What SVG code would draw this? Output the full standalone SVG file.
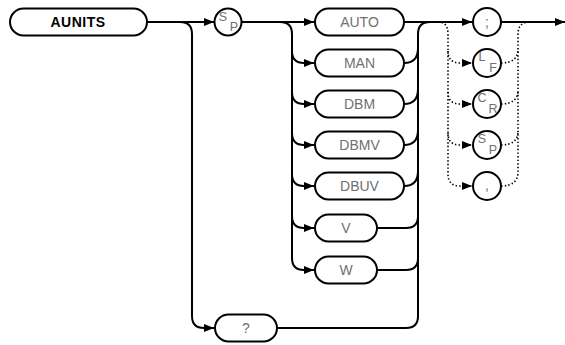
<svg xmlns="http://www.w3.org/2000/svg" width="565" height="345" viewBox="0 0 565 345">
<style>
.b{fill:#fff;stroke:#000;stroke-width:2}
.c{fill:none;stroke:#000;stroke-width:2}
.d{fill:none;stroke:#000;stroke-width:1.6;stroke-dasharray:1.4 2.2}
.t{font-family:"Liberation Sans",Arial,sans-serif;font-size:14px;fill:#707070;text-anchor:middle}
.s{font-family:"Liberation Sans",Arial,sans-serif;font-size:12.5px;fill:#707070;text-anchor:middle}
.k{font-family:"Liberation Sans",Arial,sans-serif;font-size:14px;font-weight:bold;fill:#000;text-anchor:middle;letter-spacing:0.5px}
</style>
<defs>
<marker id="a" markerUnits="userSpaceOnUse" viewBox="0 0 10 8" refX="10" refY="4" markerWidth="10" markerHeight="8" orient="auto"><path d="M0,0 L10,4 L0,8 z" fill="#000"/></marker>
</defs>
<g id="connectors">
<path class="c" d="M147,22 L214,22" marker-end="url(#a)"/>
<path class="c" d="M180,22 Q192,22 192,34 L192,316 Q192,328 204,328 L214,328" marker-end="url(#a)"/>
<path class="c" d="M242,22 L314,22" marker-end="url(#a)"/>
<path class="c" d="M280,22 Q292,22 292,34 L292,258 Q292,270 304,270 L314,270" marker-end="url(#a)"/>
<path class="c" d="M292,51 Q292,63 304,63 L314,63" marker-end="url(#a)"/>
<path class="c" d="M292,92 Q292,104 304,104 L314,104" marker-end="url(#a)"/>
<path class="c" d="M292,133 Q292,145 304,145 L314,145" marker-end="url(#a)"/>
<path class="c" d="M292,174 Q292,186 304,186 L314,186" marker-end="url(#a)"/>
<path class="c" d="M292,216 Q292,228 304,228 L314,228" marker-end="url(#a)"/>
<path class="c" d="M277,328 L406,328 Q418,328 418,316 L418,34 Q418,22 430,22"/>
<path class="c" d="M404,63 Q418,63 418,48"/>
<path class="c" d="M404,104 Q418,104 418,89"/>
<path class="c" d="M404,145 Q418,145 418,130"/>
<path class="c" d="M404,186 Q418,186 418,171"/>
<path class="c" d="M377,228 L406,228 Q418,228 418,216"/>
<path class="c" d="M377,270 L406,270 Q418,270 418,258"/>
<path class="c" d="M404,22 L472,22" marker-end="url(#a)"/>
<path class="c" d="M501,22 L565,22" marker-end="url(#a)"/>
<path class="d" d="M438,22 Q448,22 448,34 L448,174 Q448,186 460,186 L472,186" marker-end="url(#a)"/>
<path class="d" d="M448,51 Q448,63 460,63 L472,63" marker-end="url(#a)"/>
<path class="d" d="M448,92 Q448,104 460,104 L472,104" marker-end="url(#a)"/>
<path class="d" d="M448,133 Q448,145 460,145 L472,145" marker-end="url(#a)"/>
<path class="d" d="M501,186 Q518,186 518,172 L518,34 Q518,22 530,22"/>
<path class="d" d="M501,63 Q518,63 518,49"/>
<path class="d" d="M501,104 Q518,104 518,90"/>
<path class="d" d="M501,145 Q518,145 518,131"/>
</g>
<g id="n-aunits"><rect class="b" x="10" y="8.5" width="137" height="27" rx="13.5"/><text class="k" x="78" y="27">AUNITS</text></g>
<g id="n-sp1"><circle class="b" cx="228" cy="22" r="13.5"/><text class="s" x="223" y="21">S</text><text class="s" x="234" y="31">P</text></g>
<g id="n-auto"><rect class="b" x="315" y="8.5" width="89" height="27" rx="13.5"/><text class="t" x="359.5" y="27">AUTO</text></g>
<g id="n-man"><rect class="b" x="315" y="49.5" width="89" height="27" rx="13.5"/><text class="t" x="359.5" y="68">MAN</text></g>
<g id="n-dbm"><rect class="b" x="315" y="90.5" width="89" height="27" rx="13.5"/><text class="t" x="359.5" y="109">DBM</text></g>
<g id="n-dbmv"><rect class="b" x="315" y="131.5" width="89" height="27" rx="13.5"/><text class="t" x="359.5" y="150">DBMV</text></g>
<g id="n-dbuv"><rect class="b" x="315" y="172.5" width="89" height="27" rx="13.5"/><text class="t" x="359.5" y="191">DBUV</text></g>
<g id="n-v"><rect class="b" x="315" y="214.5" width="62" height="27" rx="13.5"/><text class="t" x="346" y="233">V</text></g>
<g id="n-w"><rect class="b" x="315" y="256.5" width="62" height="27" rx="13.5"/><text class="t" x="346" y="275">W</text></g>
<g id="n-q"><rect class="b" x="215" y="314.5" width="62" height="27" rx="13.5"/><text class="t" x="246" y="333">?</text></g>
<g id="n-semi"><circle class="b" cx="487" cy="22" r="14"/><text class="t" x="487" y="27">;</text></g>
<g id="n-lf"><circle class="b" cx="487" cy="63" r="14"/><text class="s" x="482" y="61">L</text><text class="s" x="493" y="72">F</text></g>
<g id="n-cr"><circle class="b" cx="487" cy="104" r="14"/><text class="s" x="482" y="102">C</text><text class="s" x="493" y="113">R</text></g>
<g id="n-sp2"><circle class="b" cx="487" cy="145" r="14"/><text class="s" x="482" y="143">S</text><text class="s" x="493" y="154">P</text></g>
<g id="n-comma"><circle class="b" cx="487" cy="186" r="14"/><text class="t" x="487" y="190">,</text></g>
</svg>
